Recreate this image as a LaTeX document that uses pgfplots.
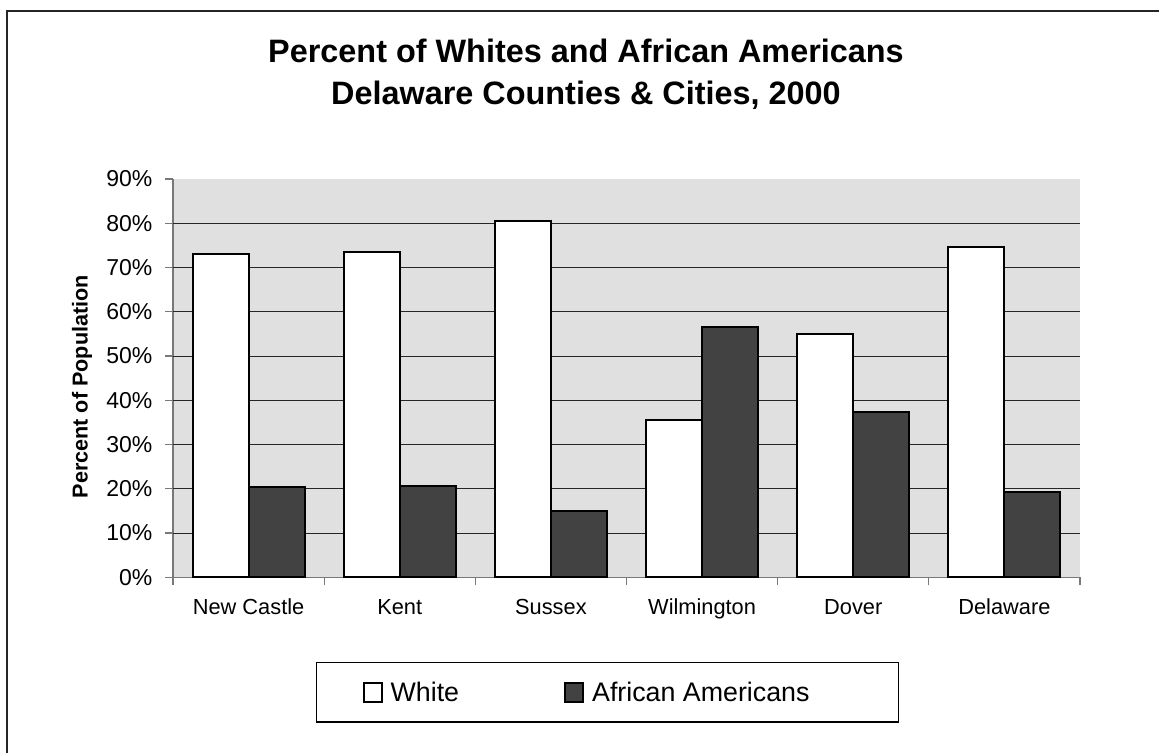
\documentclass[border=0pt]{standalone}
\usepackage{fontspec}
\setmainfont{Liberation Sans}
\usepackage{pgfplots}
\pgfplotsset{compat=1.18}
\definecolor{bgray}{RGB}{224,224,224}
\definecolor{dbar}{RGB}{66,66,66}
\definecolor{axgray}{RGB}{120,120,120}
\pgfplotsset{sqleg/.style={legend image code/.code={\draw[##1, line width=1pt] (0pt,-4.75pt) rectangle (9pt,4.75pt);}}}
\begin{document}
\begin{tikzpicture}[x=1pt,y=1pt]
\useasboundingbox (0,0) rectangle (579.5,376.5);
\draw[line width=0.9pt, black!85] (3.35,0) -- (3.35,371.15) -- (579.5,371.15);
\node[anchor=base, font=\fontsize{16.2}{19}\selectfont\bfseries] at (293,345) {Percent of Whites and African Americans};
\node[anchor=base, font=\fontsize{16.2}{19}\selectfont\bfseries] at (293,324) {Delaware Counties \& Cities, 2000};
\begin{axis}[
  at={(86.5pt,87.85pt)}, anchor=south west,
  scale only axis, width=453.5pt, height=199.15pt,
  xmin=-0.5, xmax=5.5, ymin=0, ymax=90,
  axis x line*=bottom, axis y line*=left,
  axis line style={axgray, line width=0.6pt, -},
  axis background/.style={fill=bgray},
  tick align=outside, major tick length=4pt,
  tick style={axgray, line width=0.6pt},
  xtick={-0.5,0.5,1.5,2.5,3.5,4.5,5.5},
  x tick label as interval,
  xticklabels={New Castle,Kent,Sussex,Wilmington,Dover,Delaware},
  xticklabel style={font=\fontsize{10.9}{12}\selectfont, anchor=base, inner sep=0pt, yshift=-14.7pt},
  ytick={0,10,20,30,40,50,60,70,80,90},
  yticklabels={0\%,10\%,20\%,30\%,40\%,50\%,60\%,70\%,80\%,90\%},
  yticklabel style={font=\fontsize{11.5}{13}\selectfont, anchor=east, inner sep=0pt, xshift=-6.1pt},
  extra y ticks={10,20,30,40,50,60,70,80},
  extra y tick labels={},
  extra y tick style={grid=major},
  grid style={black!85, line width=0.5pt},
  ylabel={Percent of Population},
  ylabel style={at={(axis description cs:-0.1003,0.4785)}, anchor=center, font=\fontsize{10.8}{13}\selectfont\bfseries},
  ybar, bar width=0.37,
  legend columns=2,
  legend style={at={(axis description cs:0.1577,-0.2119)}, anchor=north west,
    draw=black, line width=0.6pt,
    font=\fontsize{13.4}{16}\selectfont,
    inner xsep=23pt, inner ysep=9.7pt,
    nodes={inner sep=0pt, text height=9.6pt, text depth=0pt},
    /tikz/every odd column/.append style={column sep=4pt},
    /tikz/every even column/.append style={column sep=52.5pt}},
]
\addplot[fill=white, draw=black, line width=1pt, bar shift=-0.185, sqleg]
  coordinates {(0,73.0) (1,73.5) (2,80.4) (3,35.6) (4,55.0) (5,74.6)};
\addplot[fill=dbar, draw=black, line width=1pt, bar shift=0.185, sqleg]
  coordinates {(0,20.3) (1,20.7) (2,15.0) (3,56.5) (4,37.3) (5,19.3)};
\legend{White, African Americans\hspace*{21.5pt}}
\end{axis}
\end{tikzpicture}
\end{document}
